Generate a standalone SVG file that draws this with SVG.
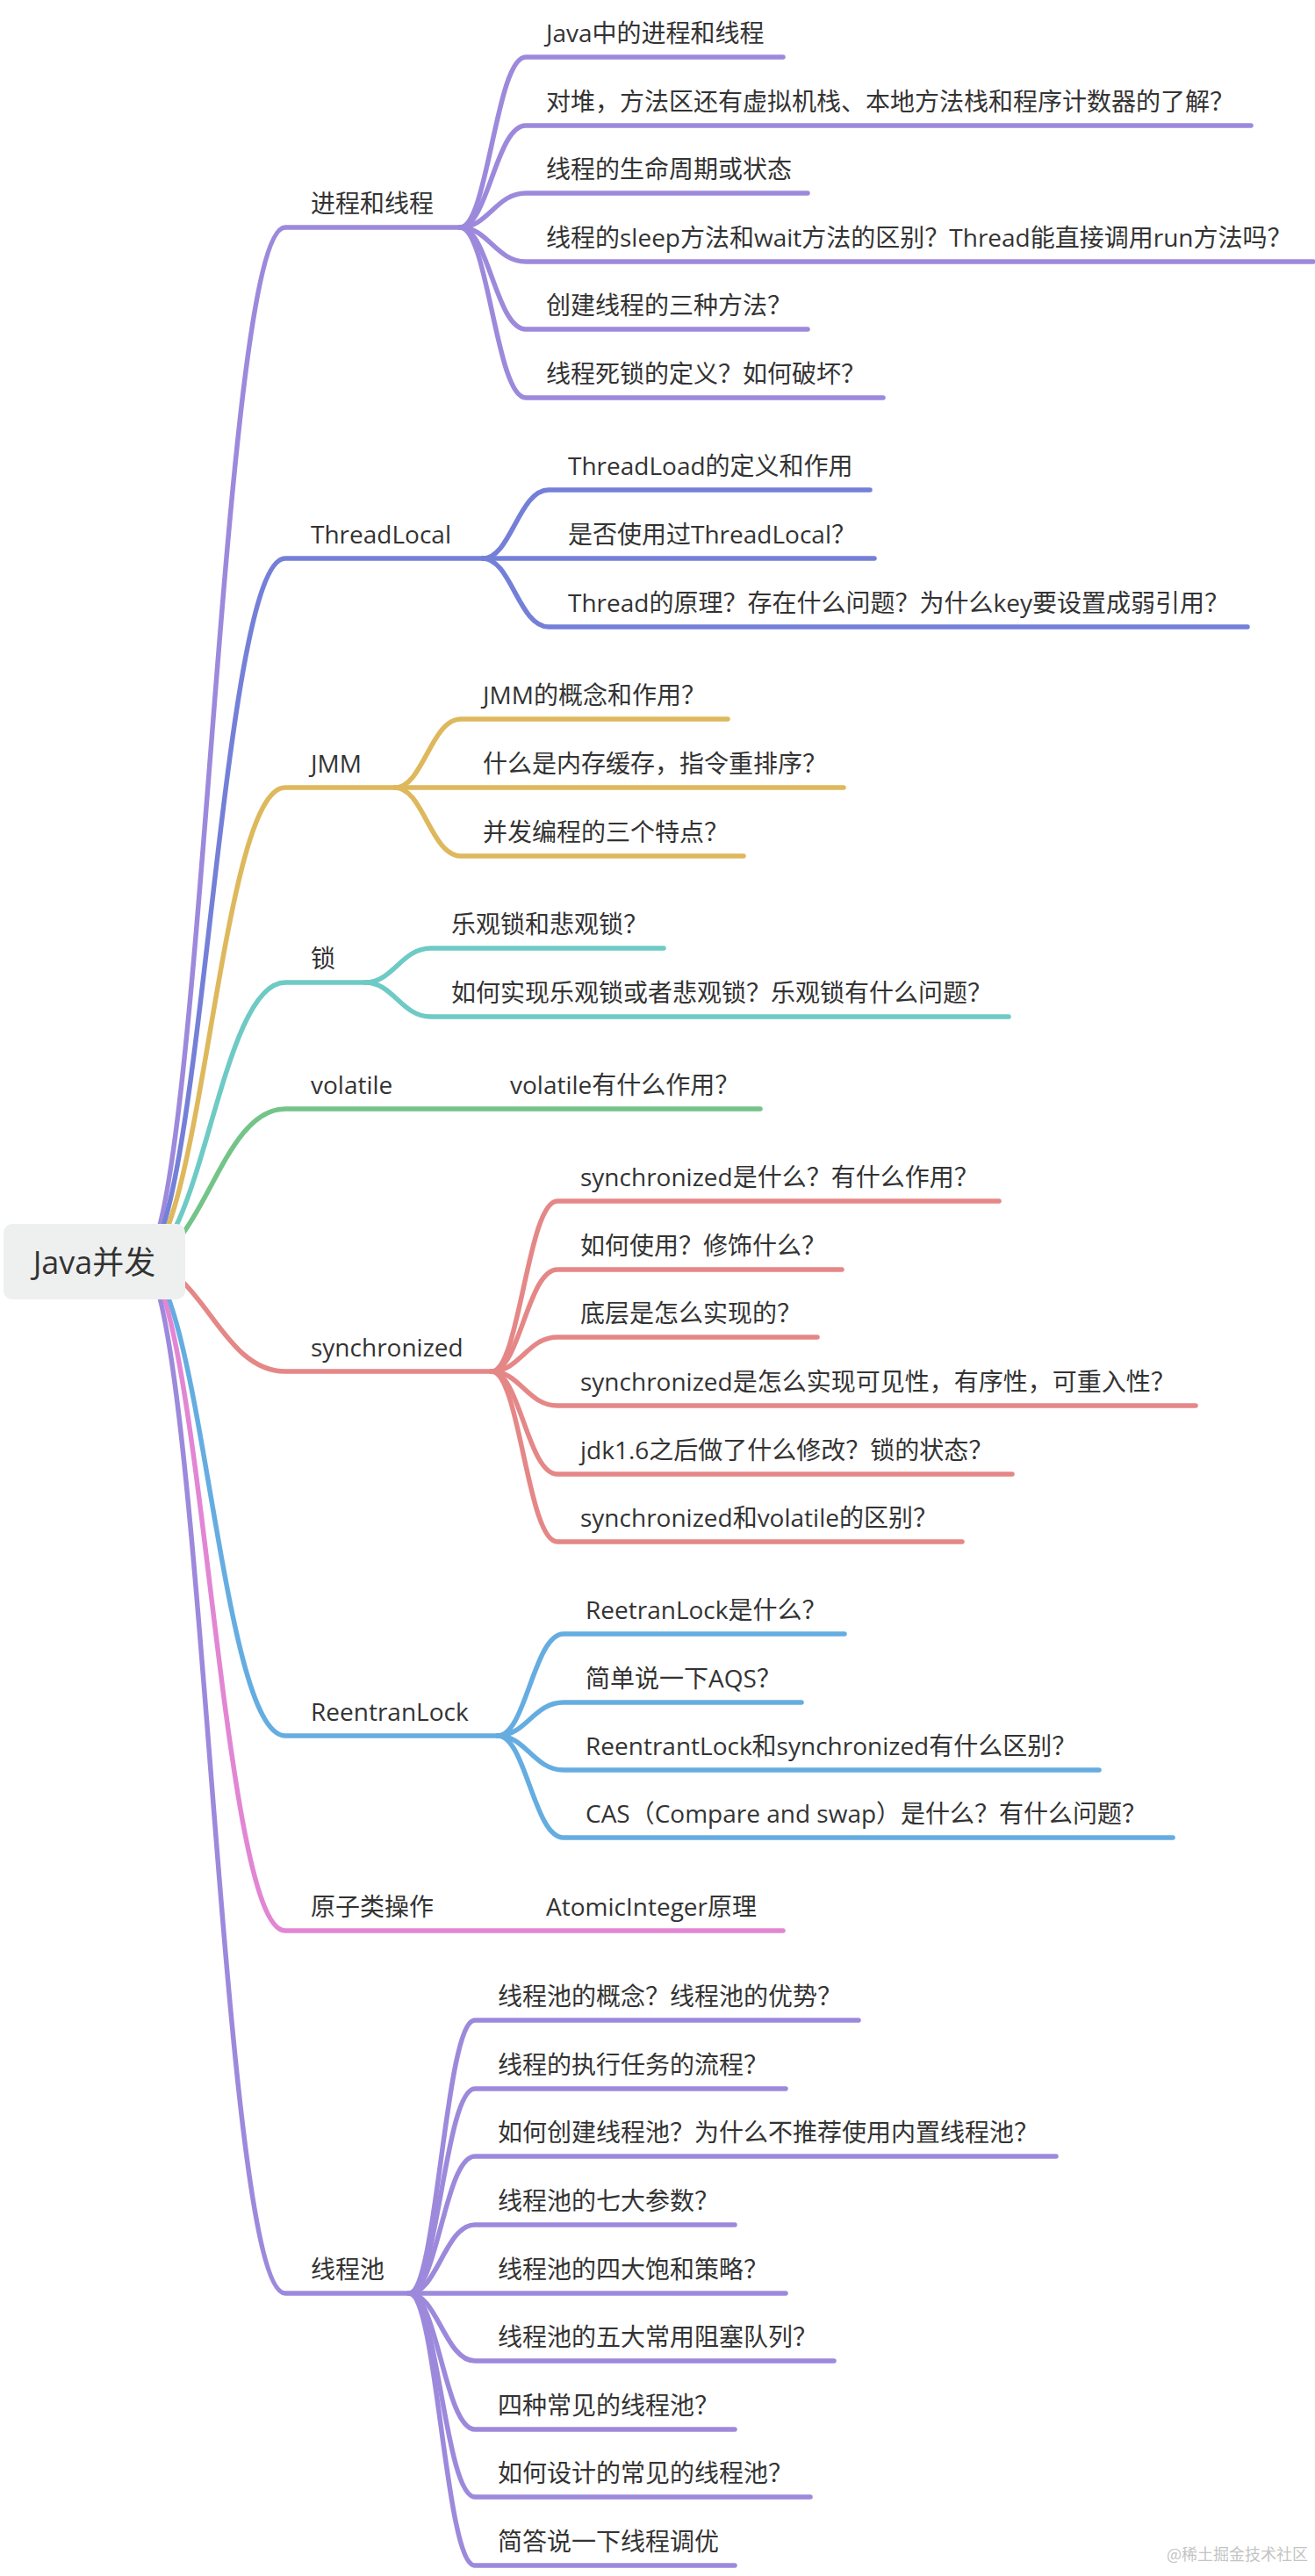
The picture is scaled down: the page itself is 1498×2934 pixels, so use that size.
<svg xmlns="http://www.w3.org/2000/svg" width="1498" height="2934" viewBox="0 0 1498 2934">
<style>
.l{fill:none;stroke-width:5.5;stroke-linecap:round;stroke-linejoin:round}
.c1{stroke:#9d89dc}.c2{stroke:#7480d8}.c3{stroke:#deb85c}.c4{stroke:#6ecac4}.c5{stroke:#74c48a}.c6{stroke:#e58787}.c7{stroke:#65ade1}.c8{stroke:#e286d4}
.t{font-family:"Open Sans","Noto Sans CJK SC",sans-serif;font-size:28px;fill:#333}
.root{font-family:"Open Sans","Noto Sans CJK SC",sans-serif;font-size:36px;fill:#333}
.wm{font-family:"Noto Sans CJK SC",sans-serif;font-size:18px;fill:#c4c4c4}
</style>
<rect width="1498" height="2934" fill="#ffffff"/>
<g id="connectors">
<path class="l c1" d="M160 1437 C230 1437 250 259 325 259 H524"/>
<path class="l c2" d="M160 1437 C230 1437 250 636 325 636 H550"/>
<path class="l c3" d="M160 1437 C230 1437 250 897 325 897 H450"/>
<path class="l c4" d="M160 1437 C230 1437 250 1119 325 1119 H416"/>
<path class="l c5" d="M160 1437 C230 1437 250 1263 325 1263 H866"/>
<path class="l c6" d="M160 1437 C230 1437 250 1562 325 1562 H560"/>
<path class="l c7" d="M160 1437 C230 1437 250 1977 325 1977 H567"/>
<path class="l c8" d="M160 1437 C230 1437 250 2199 325 2199 H892"/>
<path class="l c1" d="M160 1437 C230 1437 250 2612 325 2612 H466"/>
<path class="l c1" d="M524 259 C556 259 565 65 599 65 H892"/>
<path class="l c1" d="M524 259 C556 259 565 143 599 143 H1425"/>
<path class="l c1" d="M524 259 C556 259 565 220 599 220 H920"/>
<path class="l c1" d="M524 259 C556 259 565 298 599 298 H1496"/>
<path class="l c1" d="M524 259 C556 259 565 375 599 375 H920"/>
<path class="l c1" d="M524 259 C556 259 565 453 599 453 H1006"/>
<path class="l c2" d="M550 636 C582 636 591 558 625 558 H991"/>
<path class="l c2" d="M550 636 H996"/>
<path class="l c2" d="M550 636 C582 636 591 714 625 714 H1421"/>
<path class="l c3" d="M450 897 C482 897 491 819 525 819 H829"/>
<path class="l c3" d="M450 897 H961"/>
<path class="l c3" d="M450 897 C482 897 491 975 525 975 H847"/>
<path class="l c4" d="M416 1119 C448 1119 457 1080 491 1080 H756"/>
<path class="l c4" d="M416 1119 C448 1119 457 1158 491 1158 H1149"/>
<path class="l c6" d="M560 1562 C592 1562 601 1368 635 1368 H1138"/>
<path class="l c6" d="M560 1562 C592 1562 601 1446 635 1446 H959"/>
<path class="l c6" d="M560 1562 C592 1562 601 1523 635 1523 H931"/>
<path class="l c6" d="M560 1562 C592 1562 601 1601 635 1601 H1362"/>
<path class="l c6" d="M560 1562 C592 1562 601 1679 635 1679 H1153"/>
<path class="l c6" d="M560 1562 C592 1562 601 1756 635 1756 H1096"/>
<path class="l c7" d="M567 1977 C599 1977 608 1861 642 1861 H962"/>
<path class="l c7" d="M567 1977 C599 1977 608 1939 642 1939 H913"/>
<path class="l c7" d="M567 1977 C599 1977 608 2016 642 2016 H1252"/>
<path class="l c7" d="M567 1977 C599 1977 608 2093 642 2093 H1336"/>
<path class="l c1" d="M466 2612 C498 2612 507 2301 541 2301 H978"/>
<path class="l c1" d="M466 2612 C498 2612 507 2379 541 2379 H895"/>
<path class="l c1" d="M466 2612 C498 2612 507 2456 541 2456 H1203"/>
<path class="l c1" d="M466 2612 C498 2612 507 2534 541 2534 H837"/>
<path class="l c1" d="M466 2612 H895"/>
<path class="l c1" d="M466 2612 C498 2612 507 2689 541 2689 H950"/>
<path class="l c1" d="M466 2612 C498 2612 507 2767 541 2767 H837"/>
<path class="l c1" d="M466 2612 C498 2612 507 2844 541 2844 H923"/>
<path class="l c1" d="M466 2612 C498 2612 507 2922 541 2922 H837"/>
</g>
<g id="root">
<rect x="4" y="1394" width="207" height="86" rx="10" fill="#eef0ef"/>
<text class="root" x="107.5" y="1451" text-anchor="middle">Java并发</text>
</g>
<g id="b1">
<text class="t" x="354" y="242">进程和线程</text>
<text class="t" x="622" y="48">Java中的进程和线程</text>
<text class="t" x="622" y="126">对堆，方法区还有虚拟机栈、本地方法栈和程序计数器的了解？</text>
<text class="t" x="622" y="203">线程的生命周期或状态</text>
<text class="t" x="622" y="281">线程的sleep方法和wait方法的区别？Thread能直接调用run方法吗？</text>
<text class="t" x="622" y="358">创建线程的三种方法？</text>
<text class="t" x="622" y="436">线程死锁的定义？如何破坏？</text>
</g>
<g id="b2">
<text class="t" x="354" y="619">ThreadLocal</text>
<text class="t" x="647" y="541">ThreadLoad的定义和作用</text>
<text class="t" x="647" y="619">是否使用过ThreadLocal？</text>
<text class="t" x="647" y="697">Thread的原理？存在什么问题？为什么key要设置成弱引用？</text>
</g>
<g id="b3">
<text class="t" x="354" y="880">JMM</text>
<text class="t" x="550" y="802">JMM的概念和作用？</text>
<text class="t" x="550" y="880">什么是内存缓存，指令重排序？</text>
<text class="t" x="550" y="958">并发编程的三个特点？</text>
</g>
<g id="b4">
<text class="t" x="354" y="1102">锁</text>
<text class="t" x="514" y="1063">乐观锁和悲观锁？</text>
<text class="t" x="514" y="1141">如何实现乐观锁或者悲观锁？乐观锁有什么问题？</text>
</g>
<g id="b5">
<text class="t" x="354" y="1246">volatile</text>
<text class="t" x="581" y="1246">volatile有什么作用？</text>
</g>
<g id="b6">
<text class="t" x="354" y="1545">synchronized</text>
<text class="t" x="661" y="1351">synchronized是什么？有什么作用？</text>
<text class="t" x="661" y="1429">如何使用？修饰什么？</text>
<text class="t" x="661" y="1506">底层是怎么实现的？</text>
<text class="t" x="661" y="1584">synchronized是怎么实现可见性，有序性，可重入性？</text>
<text class="t" x="661" y="1662">jdk1.6之后做了什么修改？锁的状态？</text>
<text class="t" x="661" y="1739">synchronized和volatile的区别？</text>
</g>
<g id="b7">
<text class="t" x="354" y="1960">ReentranLock</text>
<text class="t" x="667" y="1844">ReetranLock是什么？</text>
<text class="t" x="667" y="1922">简单说一下AQS？</text>
<text class="t" x="667" y="1999">ReentrantLock和synchronized有什么区别？</text>
<text class="t" x="667" y="2076">CAS（Compare and swap）是什么？有什么问题？</text>
</g>
<g id="b8">
<text class="t" x="354" y="2182">原子类操作</text>
<text class="t" x="622" y="2182">AtomicInteger原理</text>
</g>
<g id="b9">
<text class="t" x="354" y="2595">线程池</text>
<text class="t" x="567" y="2284">线程池的概念？线程池的优势？</text>
<text class="t" x="567" y="2362">线程的执行任务的流程？</text>
<text class="t" x="567" y="2439">如何创建线程池？为什么不推荐使用内置线程池？</text>
<text class="t" x="567" y="2517">线程池的七大参数？</text>
<text class="t" x="567" y="2595">线程池的四大饱和策略？</text>
<text class="t" x="567" y="2672">线程池的五大常用阻塞队列？</text>
<text class="t" x="567" y="2750">四种常见的线程池？</text>
<text class="t" x="567" y="2827">如何设计的常见的线程池？</text>
<text class="t" x="567" y="2905">简答说一下线程调优</text>
</g>
<g id="watermark">
<text class="wm" x="1490" y="2916" text-anchor="end">@稀土掘金技术社区</text>
</g>
</svg>
